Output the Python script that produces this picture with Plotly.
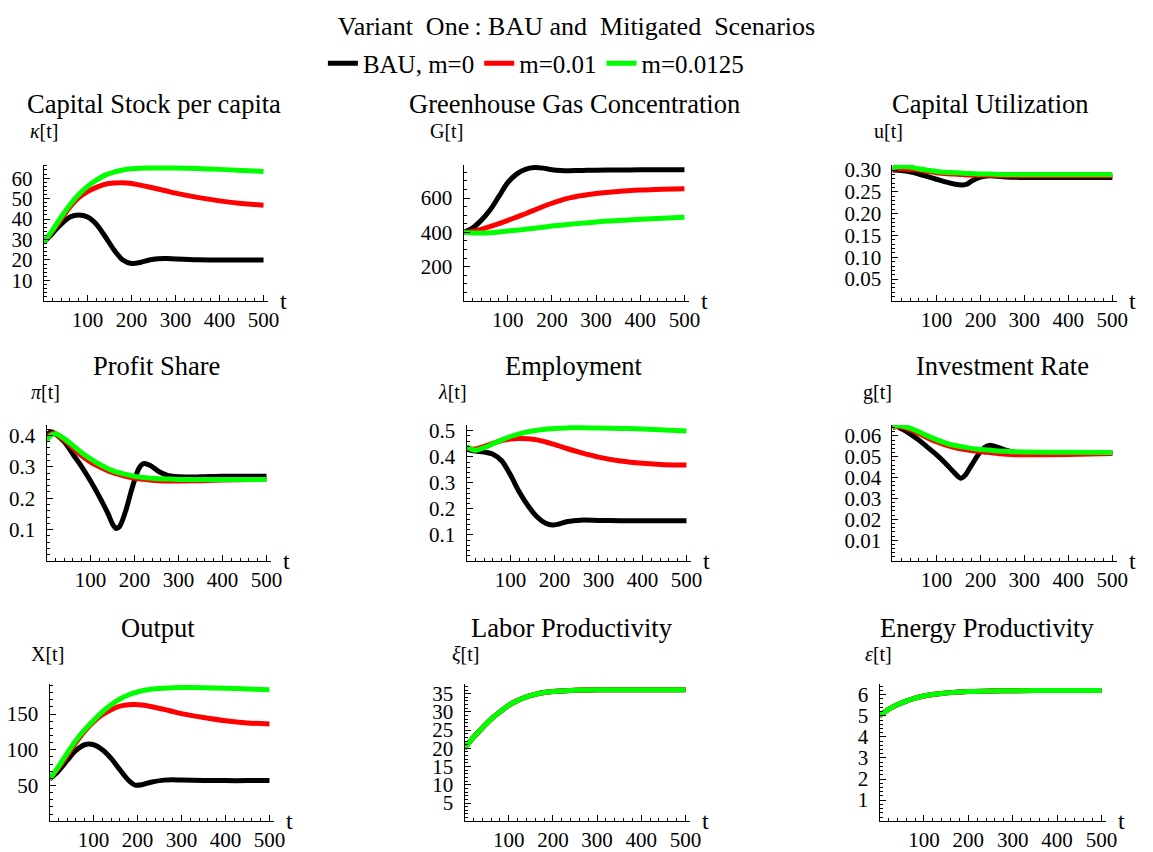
import plotly.graph_objects as go

W, H = 1153, 852
FONT = "Liberation Serif"

# ---------------- data ----------------
series_names = ["BAU, m=0", "m=0.01", "m=0.0125"]
series_colors = ["#000000", "#ff0000", "#00ff00"]

panel_titles = ["Capital Stock per capita", "Greenhouse Gas Concentration", "Capital Utilization",
                "Profit Share", "Employment", "Investment Rate",
                "Output", "Labor Productivity", "Energy Productivity"]
panel_ylabels = ["<i>κ</i>[t]", "G[t]", "u[t]", "<i>π</i>[t]", "<i>λ</i>[t]", "g[t]",
                 "X[t]", "<i>ξ</i>[t]", "<i>ε</i>[t]"]

# capital stock per capita
kappa_t = [0, 20, 40, 60, 80, 100, 120, 140, 160, 180, 200, 220, 240, 260, 280, 300, 350, 400, 450, 500]
kappa_bau = [28.5, 33, 37.5, 41, 42, 41, 37.5, 31.5, 25, 20, 18.3, 18.8, 20, 20.6, 20.7, 20.5, 20.1, 20, 20, 20]
kappa_m01 = [28.5, 34, 40, 46, 50.5, 53.5, 55.5, 57, 57.6, 57.8, 57.4, 56.6, 55.7, 54.7, 53.7, 52.7, 50.6, 48.9, 47.6, 46.8]
kappa_m0125 = [28.5, 34.5, 41, 47, 52, 56, 59, 61.5, 63, 64, 64.6, 64.9, 65, 65, 65, 65, 64.7, 64.3, 63.8, 63.3]

# GHG concentration
G_t = [0, 20, 40, 60, 80, 100, 120, 140, 160, 180, 200, 220, 240, 260, 280, 300, 350, 400, 450, 500]
G_bau = [400, 425, 470, 530, 610, 690, 740, 768, 778, 775, 766, 761, 760, 761, 762, 763, 764, 765, 765, 765]
G_m01 = [400, 405, 418, 434, 451, 470, 489, 509, 530, 551, 570, 587, 601, 612, 620, 627, 639, 647, 652, 655]
G_m0125 = [400, 397, 396, 398, 402, 408, 413, 418, 424, 430, 437, 442, 447, 452, 456, 461, 469, 476, 483, 489]

# capital utilization
u_t = [0, 20, 40, 60, 80, 100, 120, 140, 160, 170, 180, 200, 220, 250, 300, 400, 500]
u_bau = [0.300, 0.299, 0.296, 0.291, 0.285, 0.279, 0.273, 0.268, 0.266, 0.268, 0.275, 0.284, 0.287, 0.285, 0.283, 0.283, 0.283]
u_m01 = [0.301, 0.303, 0.302, 0.300, 0.297, 0.294, 0.292, 0.291, 0.290, 0.289, 0.289, 0.288, 0.288, 0.287, 0.287, 0.287, 0.287]
u_m0125 = [0.305, 0.308, 0.307, 0.303, 0.300, 0.297, 0.295, 0.294, 0.293, 0.292, 0.292, 0.291, 0.291, 0.290, 0.290, 0.290, 0.290]

# profit share
pi_t = [0, 10, 20, 40, 60, 80, 100, 120, 140, 150, 158, 166, 180, 195, 210, 220, 235, 255, 275, 300, 350, 400, 500]
pi_bau = [0.40, 0.412, 0.405, 0.38, 0.34, 0.30, 0.255, 0.205, 0.15, 0.118, 0.104, 0.11, 0.16, 0.235, 0.295, 0.31, 0.305, 0.285, 0.273, 0.268, 0.268, 0.27, 0.27]
pi_m01 = [0.39, 0.405, 0.405, 0.385, 0.36, 0.335, 0.315, 0.30, 0.287, 0.282, 0.278, 0.275, 0.27, 0.265, 0.262, 0.26, 0.258, 0.256, 0.255, 0.255, 0.256, 0.258, 0.26]
pi_m0125 = [0.385, 0.40, 0.405, 0.39, 0.368, 0.345, 0.325, 0.308, 0.294, 0.288, 0.284, 0.281, 0.276, 0.271, 0.268, 0.266, 0.264, 0.262, 0.261, 0.26, 0.26, 0.26, 0.26]

# employment
lam_t = [0, 10, 20, 40, 60, 80, 100, 120, 140, 160, 180, 195, 210, 230, 260, 300, 350, 400, 450, 500]
lam_bau = [0.43, 0.425, 0.422, 0.418, 0.41, 0.385, 0.33, 0.265, 0.212, 0.17, 0.145, 0.138, 0.142, 0.152, 0.157, 0.156, 0.155, 0.155, 0.155, 0.155]
lam_m01 = [0.435, 0.43, 0.43, 0.44, 0.452, 0.462, 0.468, 0.47, 0.469, 0.465, 0.457, 0.45, 0.442, 0.431, 0.416, 0.399, 0.384, 0.375, 0.37, 0.369]
lam_m0125 = [0.44, 0.43, 0.425, 0.435, 0.45, 0.465, 0.478, 0.488, 0.496, 0.502, 0.506, 0.508, 0.51, 0.511, 0.512, 0.511, 0.509, 0.507, 0.503, 0.499]

# investment rate
g_t = [0, 10, 20, 40, 60, 80, 100, 120, 140, 155, 165, 180, 195, 210, 222, 240, 260, 280, 300, 400, 500]
g_bau = [0.064, 0.0645, 0.0635, 0.061, 0.058, 0.0545, 0.051, 0.047, 0.0425, 0.0397, 0.041, 0.046, 0.051, 0.0545, 0.0555, 0.0545, 0.053, 0.052, 0.0517, 0.0518, 0.0518]
g_m01 = [0.064, 0.0645, 0.0643, 0.063, 0.0612, 0.059, 0.0572, 0.0557, 0.0545, 0.0538, 0.0534, 0.053, 0.0526, 0.0522, 0.052, 0.0515, 0.0512, 0.051, 0.0509, 0.0511, 0.0516]
g_m0125 = [0.0642, 0.065, 0.0648, 0.0637, 0.062, 0.060, 0.0582, 0.0567, 0.0555, 0.0549, 0.0545, 0.054, 0.0536, 0.0533, 0.0531, 0.0528, 0.0526, 0.0524, 0.0523, 0.0521, 0.052]

# output
X_t = [0, 20, 40, 60, 80, 100, 120, 140, 160, 180, 195, 210, 230, 260, 280, 300, 350, 400, 450, 500]
X_bau = [59, 70, 85, 99, 107, 107, 100, 88, 72, 57, 50.5, 51, 54.5, 57.5, 58, 57.5, 57, 56.8, 56.8, 56.8]
X_m01 = [59, 74, 92, 110, 126, 139, 149, 156, 161, 163, 163.2, 162.5, 160.5, 156.5, 153.5, 150.5, 145, 140.5, 137.5, 136]
X_m0125 = [59, 76, 95, 113, 128, 141, 153, 163, 171, 177, 180, 182.5, 184.5, 186, 186.7, 187, 186.8, 186, 185, 184]

# labor productivity
xi_t = [0, 20, 40, 60, 80, 100, 120, 140, 160, 180, 200, 240, 280, 320, 400, 500]
xi_bau = [20, 23, 25.6, 28, 30, 31.8, 33.1, 34.1, 34.8, 35.3, 35.6, 35.9, 36.0, 36.1, 36.1, 36.1]
xi_m01 = [20, 23, 25.6, 28, 30, 31.8, 33.1, 34.1, 34.8, 35.3, 35.6, 35.9, 36.0, 36.1, 36.1, 36.1]
xi_m0125 = [20, 23, 25.6, 28, 30, 31.8, 33.1, 34.1, 34.8, 35.3, 35.6, 35.9, 36.0, 36.1, 36.1, 36.1]

# energy productivity
eps_t = [0, 20, 40, 60, 80, 100, 120, 140, 160, 200, 250, 300, 400, 500]
eps_bau = [5.0, 5.3, 5.52, 5.7, 5.84, 5.94, 6.01, 6.06, 6.1, 6.15, 6.18, 6.19, 6.2, 6.2]
eps_m01 = [5.0, 5.3, 5.52, 5.7, 5.84, 5.94, 6.01, 6.06, 6.1, 6.15, 6.18, 6.19, 6.2, 6.2]
eps_m0125 = [5.0, 5.3, 5.52, 5.7, 5.84, 5.94, 6.01, 6.06, 6.1, 6.15, 6.18, 6.19, 6.2, 6.2]

x_ticks = [100, 200, 300, 400, 500]
y_ticks = [
    [10, 20, 30, 40, 50, 60],
    [200, 400, 600],
    [0.05, 0.10, 0.15, 0.20, 0.25, 0.30],
    [0.1, 0.2, 0.3, 0.4],
    [0.1, 0.2, 0.3, 0.4, 0.5],
    [0.01, 0.02, 0.03, 0.04, 0.05, 0.06],
    [50, 100, 150],
    [5, 10, 15, 20, 25, 30, 35],
    [1, 2, 3, 4, 5, 6],
]
y_ticktext = [
    ["10", "20", "30", "40", "50", "60"],
    ["200", "400", "600"],
    ["0.05", "0.10", "0.15", "0.20", "0.25", "0.30"],
    ["0.1", "0.2", "0.3", "0.4"],
    ["0.1", "0.2", "0.3", "0.4", "0.5"],
    ["0.01", "0.02", "0.03", "0.04", "0.05", "0.06"],
    ["50", "100", "150"],
    ["5", "10", "15", "20", "25", "30", "35"],
    ["1", "2", "3", "4", "5", "6"],
]
y_minor = [2, 50, 0.01, 0.02, 0.02, 0.002, 10, 1, 0.2]
y_max = [66.5, 794, 0.312, 0.433, 0.522, 0.0652, 191.7, 37.6, 6.5]

panel_data = [
    (kappa_t, [kappa_bau, kappa_m01, kappa_m0125]),
    (G_t, [G_bau, G_m01, G_m0125]),
    (u_t, [u_bau, u_m01, u_m0125]),
    (pi_t, [pi_bau, pi_m01, pi_m0125]),
    (lam_t, [lam_bau, lam_m01, lam_m0125]),
    (g_t, [g_bau, g_m01, g_m0125]),
    (X_t, [X_bau, X_m01, X_m0125]),
    (xi_t, [xi_bau, xi_m01, xi_m0125]),
    (eps_t, [eps_bau, eps_m01, eps_m0125]),
]

# ---------------- layout geometry (pixels) ----------------
boxes = [
    (44, 270.5, 160, 297), (468, 695.5, 160, 297), (901, 1127.5, 160, 297),
    (47, 273.5, 422, 559), (471, 697.5, 422, 559), (901, 1127.5, 422, 559),
    (50, 276.5, 683, 821), (469, 696.5, 683, 821), (888, 1116.5, 683, 821),
]
title_pos = [(155, 99), (580, 99), (1000, 99),
             (158, 363), (580, 363), (1012, 363),
             (160, 626), (578, 626), (997, 626)]
ylabel_pos = [(45, 126), (451, 126), (897, 126),
              (46, 389), (457, 389), (886, 389),
              (48, 653), (470, 653), (887, 653)]

fig = go.Figure()
layout = {}
annotations = []

for i, (tvals, ys) in enumerate(panel_data):
    ax = "" if i == 0 else str(i + 1)
    for j, yv in enumerate(ys):
        fig.add_trace(go.Scatter(
            x=tvals, y=yv, mode="lines", name=series_names[j],
            line=dict(color=series_colors[j], width=5, shape="spline", smoothing=0.8),
            xaxis="x" + ax, yaxis="y" + ax, showlegend=(i == 0),
            legendgroup=series_names[j],
        ))
    x0, x1, yt, yb = boxes[i]
    layout["xaxis" + ax] = dict(
        domain=[x0 / W, x1 / W], anchor="y" + ax, range=[0, 510],
        tickvals=x_ticks, ticks="inside", ticklen=6, tickwidth=1, tickcolor="black",
        minor=dict(dtick=20, tick0=0, ticks="inside", ticklen=3, tickcolor="black"),
        showline=True, linecolor="black", linewidth=1, showgrid=False, zeroline=False,
        tickfont=dict(family=FONT, size=21, color="black"), ticklabelstandoff=0,
        fixedrange=True,
    )
    layout["yaxis" + ax] = dict(
        domain=[1 - yb / H, 1 - yt / H], anchor="x" + ax, range=[0, y_max[i]],
        tickvals=y_ticks[i], ticktext=y_ticktext[i], ticks="inside", ticklen=6, tickwidth=1,
        tickcolor="black",
        minor=dict(dtick=y_minor[i], tick0=0, ticks="inside", ticklen=3, tickcolor="black"),
        showline=True, linecolor="black", linewidth=1, showgrid=False, zeroline=False,
        tickfont=dict(family=FONT, size=21, color="black"), ticklabelstandoff=6,
        fixedrange=True,
    )
    tx, ty = title_pos[i]
    annotations.append(dict(text=panel_titles[i], x=tx / W, y=1 - ty / H, xref="paper", yref="paper",
                            showarrow=False, xanchor="center", yanchor="middle",
                            font=dict(family=FONT, size=26.5, color="black")))
    lx, ly = ylabel_pos[i]
    annotations.append(dict(text=panel_ylabels[i], x=lx / W, y=1 - ly / H, xref="paper", yref="paper",
                            showarrow=False, xanchor="center", yanchor="middle",
                            font=dict(family=FONT, size=20, color="black")))
    annotations.append(dict(text="t", x=(x1 + 10) / W, y=1 - yb / H, xref="paper", yref="paper",
                            showarrow=False, xanchor="left", yanchor="middle",
                            font=dict(family=FONT, size=24, color="black")))

fig.update_layout(
    width=W, height=H, margin=dict(l=0, r=0, t=0, b=0),
    paper_bgcolor="white", plot_bgcolor="white",
    title=dict(text="Variant\u00a0 One\u2009: BAU and\u00a0 Mitigated\u00a0 Scenarios",
               x=0.5, xanchor="center", y=1 - 26 / H, yanchor="middle",
               font=dict(family=FONT, size=26, color="black")),
    legend=dict(orientation="h", x=326 / W, xanchor="left", y=1 - 58 / H, yanchor="middle",
                font=dict(family=FONT, size=25, color="black"), itemwidth=30,
                bgcolor="rgba(0,0,0,0)", tracegroupgap=0),
    annotations=annotations,
    **layout,
)

fig.write_html("out.html")
